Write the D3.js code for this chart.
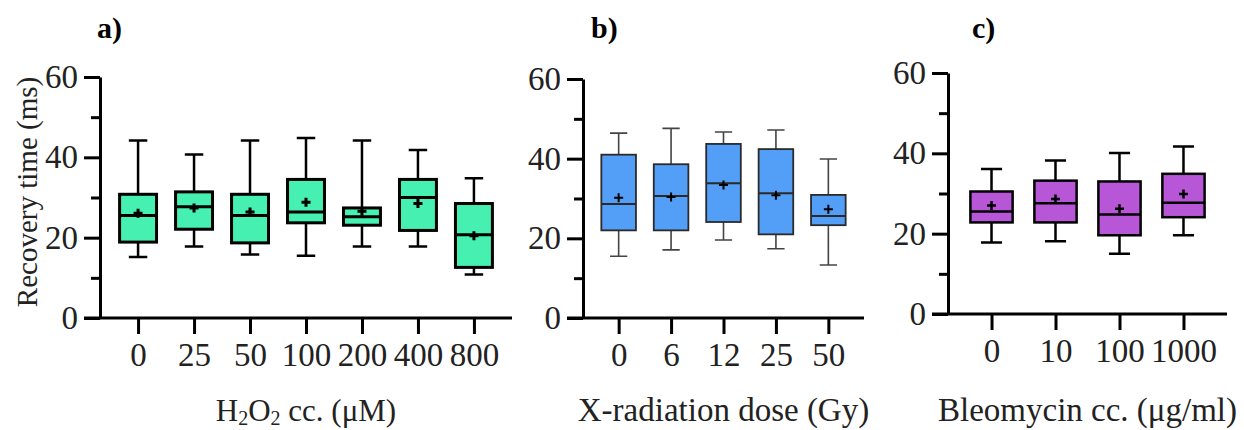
<!DOCTYPE html>
<html>
<head>
<meta charset="utf-8">
<script src="https://cdn.jsdelivr.net/npm/d3@7"></script>
<style>
  body { margin: 0; background: #fff; }
  svg text { font-family: "Liberation Serif", "DejaVu Serif", serif !important; }
</style>
</head>
<body>
<div id="plot"></div>
<script>
// a) H2O2 concentration
const h2o2Cats = ["0", "25", "50", "100", "200", "400", "800"];
const h2o2Min = [15.2, 17.8, 15.8, 15.5, 17.8, 17.8, 10.8];
const h2o2Q1 = [18.9, 22.1, 18.7, 23.7, 23.1, 21.8, 12.6];
const h2o2Median = [25.5, 27.7, 25.5, 26.4, 25.2, 30.0, 20.7];
const h2o2Q3 = [30.8, 31.4, 30.8, 34.5, 27.4, 34.5, 28.5];
const h2o2Max = [44.2, 40.7, 44.2, 44.8, 44.2, 41.8, 34.8];
const h2o2Mean = [26.1, 27.4, 26.4, 28.8, 26.6, 28.5, 20.5];

// b) X-radiation dose
const xrayCats = ["0", "6", "12", "25", "50"];
const xrayMin = [15.5, 17.1, 19.6, 17.4, 13.3];
const xrayQ1 = [22.0, 22.0, 24.1, 21.0, 23.3];
const xrayMedian = [28.6, 30.6, 33.8, 31.3, 25.6];
const xrayQ3 = [41.0, 38.6, 43.7, 42.4, 30.9];
const xrayMax = [46.4, 47.6, 46.7, 47.2, 39.9];
const xrayMean = [30.2, 30.4, 33.4, 30.8, 27.3];

// c) Bleomycin concentration
const bleoCats = ["0", "10", "100", "1000"];
const bleoMin = [17.8, 18.1, 15.0, 19.6];
const bleoQ1 = [22.8, 22.8, 19.6, 24.1];
const bleoMedian = [25.5, 27.6, 24.8, 27.7];
const bleoQ3 = [30.5, 33.2, 33.0, 34.9];
const bleoMax = [36.1, 38.2, 40.1, 41.7];
const bleoMean = [27.0, 28.6, 26.2, 29.9];

const yTicks = [0, 20, 40, 60];
const yMinorTicks = [10, 30, 50];

const w = 1244;
const h = 430;
const serif = "'Liberation Serif', 'DejaVu Serif', serif";

const svg = d3.select("div#plot")
    .append("svg")
    .attr("width", w)
    .attr("height", h)
    .attr("font-family", serif);

function drawPanel(p) {
  const rows = p.cats.map((c, i) => ({
    cat: c, min: p.min[i], q1: p.q1[i], med: p.med[i],
    q3: p.q3[i], max: p.max[i], mean: p.mean[i]
  }));

  const xScale = d3.scalePoint()
      .domain(p.cats)
      .range([p.x0, p.x1])
      .padding(0.68);

  const yScale = d3.scaleLinear()
      .domain([0, 60])
      .range([p.yBottom, p.yTop]);

  const bw = xScale.step() * 0.66;
  const cw = xScale.step() * 0.33;

  const g = svg.append("g");

  // whiskers
  g.selectAll(".whisk")
    .data(rows)
    .enter().append("path")
      .attr("d", d => `M${xScale(d.cat)},${yScale(d.min)}V${yScale(d.q1)}M${xScale(d.cat)},${yScale(d.q3)}V${yScale(d.max)}`
        + `M${xScale(d.cat) - cw / 2},${yScale(d.min)}h${cw}M${xScale(d.cat) - cw / 2},${yScale(d.max)}h${cw}`)
      .attr("fill", "none")
      .attr("stroke", p.whiskerColor)
      .attr("stroke-width", p.whiskerWidth);

  // boxes
  g.selectAll(".box")
    .data(rows)
    .enter().append("rect")
      .attr("x", d => xScale(d.cat) - bw / 2)
      .attr("y", d => yScale(d.q3))
      .attr("width", bw)
      .attr("height", d => yScale(d.q1) - yScale(d.q3))
      .attr("fill", p.fill)
      .attr("stroke", p.boxColor)
      .attr("stroke-width", p.boxWidth);

  // medians
  g.selectAll(".med")
    .data(rows)
    .enter().append("line")
      .attr("x1", d => xScale(d.cat) - bw / 2)
      .attr("x2", d => xScale(d.cat) + bw / 2)
      .attr("y1", d => yScale(d.med))
      .attr("y2", d => yScale(d.med))
      .attr("stroke", p.boxColor)
      .attr("stroke-width", p.medWidth);

  // means
  g.selectAll(".mean")
    .data(rows)
    .enter().append("path")
      .attr("d", d => `M${xScale(d.cat) - 4.5},${yScale(d.mean)}h9M${xScale(d.cat)},${yScale(d.mean) - 4.5}v9`)
      .attr("stroke", "#000")
      .attr("stroke-width", p.meanWidth);

  // y axis
  const yAxis = d3.axisLeft(yScale)
      .tickValues(yTicks)
      .tickSize(16)
      .tickPadding(6)
      .tickSizeOuter(0);

  const ya = svg.append("g")
      .attr("transform", `translate(${p.x0}, 0)`)
      .call(yAxis)
      .attr("font-family", serif)
      .attr("font-size", 33);
  ya.selectAll("path, line").attr("stroke-width", 3);
  ya.selectAll("text").attr("fill", "#222");

  const yMinor = d3.axisLeft(yScale)
      .tickValues(yMinorTicks)
      .tickSize(9)
      .tickFormat("");
  const ym = svg.append("g")
      .attr("transform", `translate(${p.x0}, 0)`)
      .call(yMinor);
  ym.select(".domain").remove();
  ym.selectAll("line").attr("stroke-width", 3);

  // x axis
  const xAxis = d3.axisBottom(xScale)
      .tickSize(16)
      .tickPadding(9)
      .tickSizeOuter(0);

  const xa = svg.append("g")
      .attr("transform", `translate(0, ${p.yBottom})`)
      .call(xAxis)
      .attr("font-family", serif)
      .attr("font-size", 33);
  xa.select(".domain").attr("d", `M${p.x0 - 16},0H${p.x1}`);
  xa.selectAll("path, line").attr("stroke-width", 3);
  xa.selectAll("text").attr("fill", "#222");

  // x title
  const t = svg.append("text")
      .attr("x", (p.x0 + p.x1) / 2)
      .attr("y", 421)
      .attr("text-anchor", "middle")
      .attr("font-size", p.titleSize)
      .attr("fill", "#222");
  p.title.forEach(s => {
    t.append("tspan")
      .attr("dy", s.sub ? 4 : (s.back ? -4 : null))
      .attr("font-size", s.sub ? 20 : null)
      .text(s.text);
  });

  // panel letter
  svg.append("text")
      .attr("x", p.letterX)
      .attr("y", 38)
      .attr("font-size", 30)
      .attr("font-weight", "bold")
      .text(p.letter);
}

drawPanel({
  cats: h2o2Cats, min: h2o2Min, q1: h2o2Q1, med: h2o2Median, q3: h2o2Q3, max: h2o2Max, mean: h2o2Mean,
  x0: 100, x1: 512, yTop: 77, yBottom: 318,
  fill: "#45f0b0", boxColor: "#000", boxWidth: 3, medWidth: 3,
  whiskerColor: "#000", whiskerWidth: 2.5, meanWidth: 3,
  title: [{text: "H"}, {text: "2", sub: true}, {text: "O", back: true}, {text: "2", sub: true}, {text: " cc. (\u03bcM)", back: true}],
  titleSize: 31,
  letter: "a)", letterX: 97
});

drawPanel({
  cats: xrayCats, min: xrayMin, q1: xrayQ1, med: xrayMedian, q3: xrayQ3, max: xrayMax, mean: xrayMean,
  x0: 583, x1: 864, yTop: 79, yBottom: 318,
  fill: "#539ff7", boxColor: "#2a2a2a", boxWidth: 1.8, medWidth: 2,
  whiskerColor: "#444", whiskerWidth: 1.6, meanWidth: 2,
  title: [{text: "X-radiation dose (Gy)"}],
  titleSize: 33,
  letter: "b)", letterX: 591
});

drawPanel({
  cats: bleoCats, min: bleoMin, q1: bleoQ1, med: bleoMedian, q3: bleoQ3, max: bleoMax, mean: bleoMean,
  x0: 948, x1: 1227, yTop: 73, yBottom: 314,
  fill: "#b757d7", boxColor: "#000", boxWidth: 2.5, medWidth: 2.5,
  whiskerColor: "#000", whiskerWidth: 2.5, meanWidth: 2.5,
  title: [{text: "Bleomycin cc. (\u03bcg/ml)"}],
  titleSize: 33,
  letter: "c)", letterX: 972
});

// y title
svg.append("text")
    .attr("transform", "translate(37, 192) rotate(-90)")
    .attr("text-anchor", "middle")
    .attr("font-size", 29)
    .attr("fill", "#222")
    .text("Recovery time (ms)");
</script>
</body>
</html>
